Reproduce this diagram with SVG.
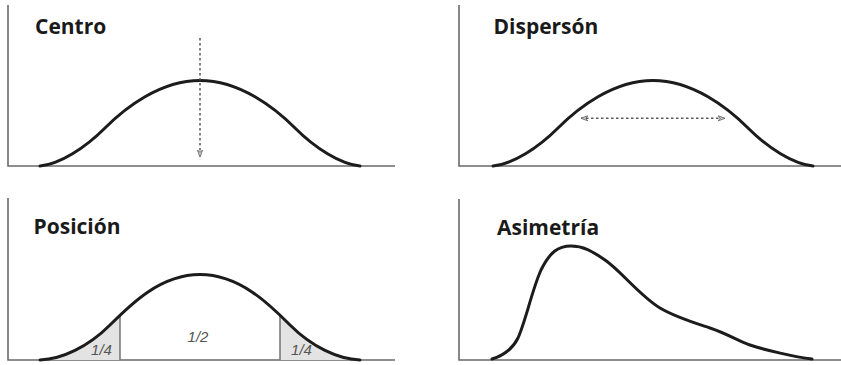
<svg xmlns="http://www.w3.org/2000/svg" width="841" height="365" viewBox="0 0 841 365">
  <style>
    .axis { stroke: #6a6a6a; stroke-width: 1.6; fill: none; }
    .curve { stroke: #1c1c1c; stroke-width: 3; fill: none; stroke-linecap: round; stroke-linejoin: round; }
    .dash { stroke: #5a5a5a; stroke-width: 1.5; fill: none; stroke-dasharray: 2.5 2.5; }
    .title { font-family: "Open Sans", "Noto Sans", sans-serif; font-weight: bold; font-size: 21px; fill: #1a1a1a; }
    .frac { font-family: "Liberation Sans", Arial, sans-serif; font-style: italic; font-size: 15px; fill: #555; text-anchor: middle; }
    .shade { fill: #e3e3e3; }
    .cut { stroke: #6a6a6a; stroke-width: 1.4; }
  </style>
  <defs>
    <marker id="ah" viewBox="0 0 10 8" refX="9" refY="4" markerWidth="8" markerHeight="6.4" markerUnits="userSpaceOnUse" orient="auto-start-reverse">
      <path d="M0.5,0.8 L9,4 L0.5,7.2 L3,4 z" fill="#cfcfcf" stroke="#5a5a5a" stroke-width="1"/>
    </marker>
    <clipPath id="under">
      <path d="M40,360 C62,359 88,347 110,325 C130,305 160,274.5 200,274.5 C240,274.5 270,305 290,325 C312,347 338,359 360,360 Z"/>
    </clipPath>
  </defs>
  <rect width="841" height="365" fill="#ffffff"/>

  <g id="centro">
    <path class="axis" d="M8,5 V166 H395"/>
    <path class="curve" d="M40,166 C60,164 85,148 105,128 C125,108 160,80.5 200,80.5 C240,80.5 275,108 295,128 C315,148 340,164 360,166"/>
    <text class="title" x="35" y="33.5">Centro</text>
  </g>

  <g id="dispersion">
    <path class="axis" d="M459,5 V166 H841"/>
    <path class="curve" d="M493,166 C513,164 538,148 558,128 C578,108 613,80.5 653,80.5 C693,80.5 728,108 748,128 C768,148 793,164 813,166"/>
    <text class="title" x="493.5" y="33.5">Dispersón</text>
  </g>

  <g id="posicion">
    <path class="axis" d="M8,198 V360 H395"/>
    <g clip-path="url(#under)">
      <rect class="shade" x="40" y="270" width="80" height="90"/>
      <rect class="shade" x="280" y="270" width="80" height="90"/>
      <line class="cut" x1="120" y1="290" x2="120" y2="360"/>
      <line class="cut" x1="280" y1="290" x2="280" y2="360"/>
    </g>
    <path class="curve" d="M40,360 C62,359 88,347 110,325 C130,305 160,274.5 200,274.5 C240,274.5 270,305 290,325 C312,347 338,359 360,360"/>
    <text class="title" x="33.5" y="233.5">Posición</text>
    <text class="frac" x="101.5" y="355">1/4</text>
    <text class="frac" x="198" y="341.5">1/2</text>
    <text class="frac" x="301.5" y="355">1/4</text>
  </g>

  <g id="asimetria">
    <path class="axis" d="M459,199 V360 H841"/>
    <path class="curve" d="M492,359 C502,356 512,350 518,338 C526,320 532,290 541,270 C550,252 558,246 571,246 C583,246 592,251 605,260 C620,270 640,296 660,308 C675,317 695,323 710,328 C728,334 738,341 750,345 C765,350 795,357 812,359"/>
    <text class="title" x="497" y="234.5">Asimetría</text>
  </g>

  <g id="connectors">
    <line class="dash" x1="200" y1="38" x2="200" y2="157" marker-end="url(#ah)"/>
    <line class="dash" x1="581" y1="118.3" x2="725" y2="118.3" marker-start="url(#ah)" marker-end="url(#ah)"/>
  </g>
</svg>
